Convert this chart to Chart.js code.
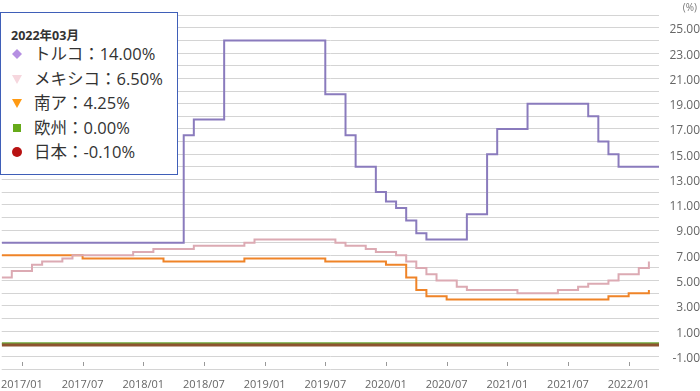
<!DOCTYPE html>
<html>
<head>
<meta charset="utf-8">
<script src="https://cdn.jsdelivr.net/npm/chart.js@4"></script>
<style>
  html, body { margin: 0; padding: 0; background: #fff; }
  #wrap { position: relative; width: 700px; height: 391px; }
  #unit { position: absolute; right: 3px; top: 0px; font: 10px "Open Sans", sans-serif; color: #777; }
  #box {
    position: absolute; left: 0; top: 12px; width: 176px; height: 161px;
    background: #fff; border: 1px solid #3f5fb8;
    font-family: "Open Sans", "Noto Sans CJK JP", sans-serif; color: #333;
  }
  #box .title { position: absolute; left: 10px; top: 12px; font-size: 12.5px; font-weight: bold; font-family: "Open Sans", "Noto Sans CJK JP", sans-serif; }
  #box .row { position: absolute; left: 11px; height: 20px; line-height: 20px; white-space: nowrap; }
  #box .row svg { position: absolute; left: 0; top: 5px; }
  #box .row span { position: absolute; left: 22px; top: 0; font-size: 16.5px; font-family: "Open Sans", "Noto Sans CJK JP", sans-serif; }
</style>
</head>
<body>
<div id="wrap">
  <canvas id="rateChart" width="700" height="391"></canvas>
  <div id="unit">(%)</div>
  <div id="box"></div>
</div>
<script>
// policy rate changes, month of change -> new rate
const turkeyDates = ['2016/11', '2018/05', '2018/06', '2018/09', '2019/07', '2019/09', '2019/10', '2019/12', '2020/01', '2020/02', '2020/03', '2020/04', '2020/05', '2020/09', '2020/11', '2020/12', '2021/03', '2021/09', '2021/10', '2021/11', '2021/12', '2022/04'];
const turkeyRates = [8.00, 16.50, 17.75, 24.00, 19.75, 16.50, 14.00, 12.00, 11.25, 10.75, 9.75, 8.75, 8.25, 10.25, 15.00, 17.00, 19.00, 18.00, 16.00, 15.00, 14.00, 14.00];

const mexicoDates = ['2016/11', '2016/12', '2017/02', '2017/03', '2017/05', '2017/06', '2017/12', '2018/02', '2018/06', '2018/11', '2018/12', '2019/08', '2019/09', '2019/11', '2019/12', '2020/02', '2020/03', '2020/04', '2020/05', '2020/06', '2020/08', '2020/09', '2021/02', '2021/06', '2021/08', '2021/09', '2021/11', '2021/12', '2022/02', '2022/03'];
const mexicoRates = [5.25, 5.75, 6.25, 6.50, 6.75, 7.00, 7.25, 7.50, 7.75, 8.00, 8.25, 8.00, 7.75, 7.50, 7.25, 7.00, 6.50, 6.00, 5.50, 5.00, 4.50, 4.25, 4.00, 4.25, 4.50, 4.75, 5.00, 5.50, 6.00, 6.50];

const safricaDates = ['2016/11', '2017/07', '2018/03', '2018/11', '2019/07', '2020/01', '2020/03', '2020/04', '2020/05', '2020/07', '2021/11', '2022/01', '2022/03'];
const safricaRates = [7.00, 6.75, 6.50, 6.75, 6.50, 6.25, 5.25, 4.25, 3.75, 3.50, 3.75, 4.00, 4.25];

const euroDates = ['2016/11', '2022/04'];
const euroRates = [0.00, 0.00];

const japanDates = ['2016/11', '2022/04'];
const japanRates = [-0.10, -0.10];

const xTickLabels = ['2017/01', '2017/07', '2018/01', '2018/07', '2019/01', '2019/07', '2020/01', '2020/07', '2021/01', '2021/07', '2022/01'];
const seriesNames = ['トルコ', 'メキシコ', '南ア', '欧州', '日本'];
const boxTitle = '2022年03月';

// months counted from 2016/11
function monthIndex(s) {
    const [y, m] = s.split('/').map(Number);
    return (y - 2016) * 12 + (m - 11);
}
function indexLabel(i) {
    const t = i + 10;
    const y = 2016 + Math.floor(t / 12);
    const m = t % 12 + 1;
    return y + '/' + String(m).padStart(2, '0');
}
function toPoints(dates, rates) {
    return dates.map((d, i) => ({ x: monthIndex(d), y: rates[i] }));
}

const lineColors = ['#8a7bbd', '#dcaab3', '#ef8428', '#6ea83a', '#8e5430'];
const markColors = ['#b58fe2', '#f6d7de', '#ff9a12', '#66aa1a', '#b81212'];
const allDates = [turkeyDates, mexicoDates, safricaDates, euroDates, japanDates];
const allRates = [turkeyRates, mexicoRates, safricaRates, euroRates, japanRates];

const tickMarks = {
    id: 'tickMarks',
    afterDatasetsDraw(chart) {
        const ctx = chart.ctx;
        const xs = chart.scales.x;
        const bottom = chart.chartArea.bottom;
        ctx.save();
        ctx.strokeStyle = '#999';
        ctx.lineWidth = 1;
        xTickLabels.forEach(l => {
            const px = Math.round(xs.getPixelForValue(monthIndex(l))) + 0.5;
            ctx.beginPath();
            ctx.moveTo(px, bottom - 7);
            ctx.lineTo(px, bottom - 3);
            ctx.stroke();
        });
        ctx.restore();
    }
};

const ctx = document.getElementById('rateChart').getContext('2d');
new Chart(ctx, {
    type: 'line',
    data: {
        datasets: seriesNames.map((name, i) => ({
            label: name,
            data: toPoints(allDates[i], allRates[i]),
            borderColor: lineColors[i],
            borderWidth: i >= 3 ? 3 : 2,
            stepped: true,
            pointRadius: 0,
            fill: false,
            order: i === 4 ? 0 : i + 1
        }))
    },
    options: {
        responsive: false,
        animation: false,
        layout: { padding: { left: 1, top: 6, right: 0, bottom: 0 } },
        plugins: {
            legend: { display: false },
            tooltip: { enabled: false }
        },
        scales: {
            x: {
                type: 'linear',
                min: 0,
                max: 65,
                grid: { display: false },
                border: { display: false },
                afterBuildTicks: scale => {
                    scale.ticks = xTickLabels.map(l => ({ value: monthIndex(l) }));
                },
                afterFit: scale => { scale.height = 22; },
                ticks: {
                    autoSkip: false,
                    maxRotation: 0,
                    padding: 1,
                    color: '#666',
                    font: { family: '"Open Sans", sans-serif', size: 11 },
                    callback: v => indexLabel(v)
                }
            },
            y: {
                position: 'right',
                min: -2,
                max: 26,
                grid: { color: '#d4d4d4', drawTicks: false },
                border: { display: false },
                afterFit: scale => { scale.width = 41; },
                ticks: {
                    stepSize: 1,
                    autoSkip: false,
                    crossAlign: 'far',
                    padding: 8,
                    labelOffset: 2,
                    color: '#666',
                    font: { family: '"Open Sans", sans-serif', size: 12 },
                    callback: v => (Math.abs(v % 2) === 1 ? v.toFixed(2) : '')
                }
            }
        }
    },
    plugins: [tickMarks]
});

// hover box for the latest month
const markers = [
    '<polygon points="5,0 10,5 5,10 0,5" fill="C"/>',
    '<polygon points="0,1 10,1 5,10" fill="C"/>',
    '<polygon points="0,1 10,1 5,10" fill="C"/>',
    '<rect x="1" y="1" width="8" height="8" fill="C"/>',
    '<circle cx="5" cy="5" r="5" fill="C"/>'
];
const box = document.getElementById('box');
let html = '<div class="title">' + boxTitle + '</div>';
seriesNames.forEach((name, i) => {
    const rates = allRates[i];
    const dates = allDates[i];
    let val = rates[0];
    dates.forEach((d, j) => { if (monthIndex(d) <= monthIndex('2022/03')) val = rates[j]; });
    html += '<div class="row" style="top:' + (31 + i * 24.5) + 'px">' +
        '<svg width="10" height="10">' + markers[i].replace('C', markColors[i]) + '</svg>' +
        '<span>' + name + '：' + val.toFixed(2) + '%</span></div>';
});
box.innerHTML = html;
</script>
</body>
</html>
